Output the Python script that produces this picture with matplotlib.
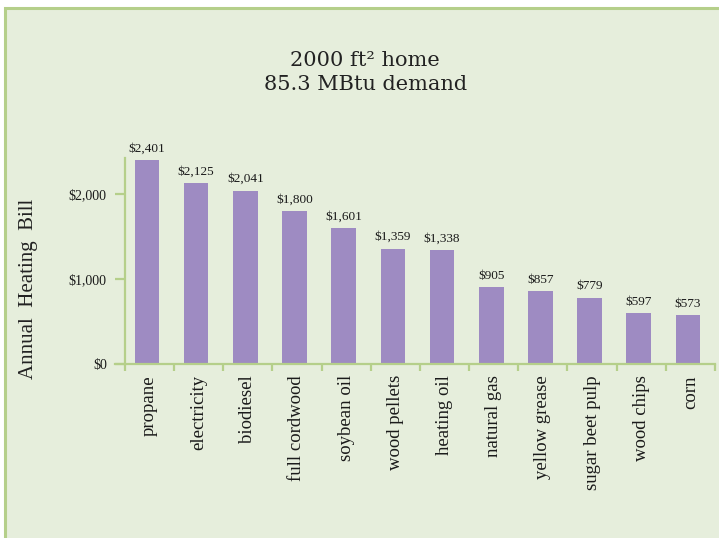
import numpy as np
import matplotlib.pyplot as plt
from matplotlib.patches import Rectangle

fuels = ['propane', 'electricity', 'biodiesel', 'full cordwood', 'soybean oil',
         'wood pellets', 'heating oil', 'natural gas', 'yellow grease',
         'sugar beet pulp', 'wood chips', 'corn']
bill = [2401, 2125, 2041, 1800, 1601, 1359, 1338, 905, 857, 779, 597, 573]

bg = '#e6eedc'
green = '#b5cf8a'
purple = '#9e8bc2'

plt.rcParams['font.family'] = 'Liberation Serif'

fig = plt.figure(figsize=(7.19, 5.38), dpi=100)
fig.patch.set_facecolor('white')

# panel with green border on top/left
fig.patches.append(Rectangle((5 / 719, -0.1), 1.2, 1 - 8 / 538 + 0.1,
                             transform=fig.transFigure, facecolor=bg,
                             edgecolor=green, linewidth=2.2, zorder=-10))

ax = fig.add_axes([115 / 719, 1 - 364 / 538, 600 / 719, (364 - 158) / 538])
ax.set_facecolor('none')

x = np.arange(len(fuels))
ax.bar(x - 0.05, bill, width=0.5, color=purple, zorder=2)

for xi, v in zip(x, bill):
    ax.annotate('${:,}'.format(v), (xi - 0.05, v), xytext=(0, 4), textcoords='offset points',
                ha='center', va='bottom', fontsize=9.5, color='#1a1a1a')

ax.set_xlim(-0.7, 11.5)
ax.set_ylim(0, 2424)

ax.spines['top'].set_visible(False)
ax.spines['right'].set_visible(False)
ax.spines['left'].set_position(('data', -0.5))
for s in ['left', 'bottom']:
    ax.spines[s].set_color(green)
    ax.spines[s].set_linewidth(1.6)

ax.set_yticks([0, 1000, 2000], ['$0', '$1,000', '$2,000'])
ax.tick_params(axis='y', length=7, width=1.6, color=green, pad=6, labelsize=10,
               labelcolor='#1a1a1a')

ax.set_xticks(np.arange(-0.5, 12, 1), [])
ax.tick_params(axis='x', which='major', length=5, width=1.6, color=green)
ax.set_xticks(x, fuels, minor=True, rotation=90)
ax.tick_params(axis='x', which='minor', length=0, pad=8, labelsize=13.5,
               labelcolor='#1a1a1a')
for lab in ax.get_xticklabels(minor=True):
    lab.set_va('top')

fig.text(365 / 719, 1 - 61 / 538, '2000 ft² home', ha='center', va='center',
         fontsize=15, family='DejaVu Serif', color='#222222')
fig.text(366 / 719, 1 - 84 / 538, '85.3 MBtu demand', ha='center', va='center',
         fontsize=15, family='DejaVu Serif', color='#222222')
fig.text(29 / 719, 1 - 289 / 538, 'Annual  Heating  Bill', rotation=90, ha='center',
         va='center', fontsize=15, color='#222222')

fig.savefig('out.png', dpi=100)
